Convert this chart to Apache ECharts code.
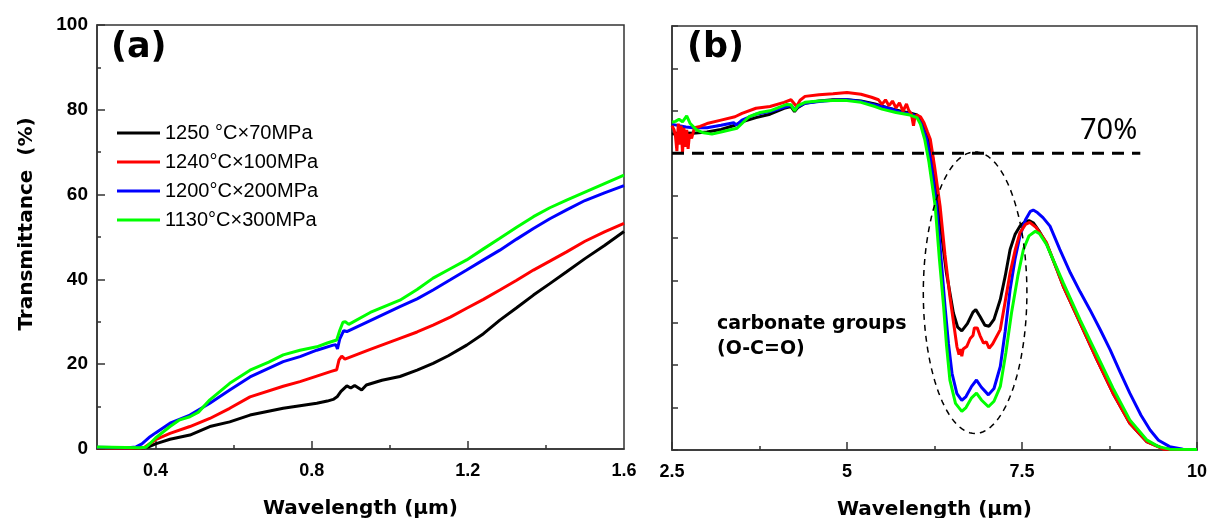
<!DOCTYPE html>
<html>
<head>
<meta charset="utf-8">
<script src="https://cdn.jsdelivr.net/npm/echarts@6/dist/echarts.min.js"></script>
<style>html,body{margin:0;padding:0;background:#fff;}#c{width:1212px;height:518px;}</style>
</head>
<body>
<div id="c"></div>
<script>
// ---------- data ----------
const seriesNames = ['1250 °C×70MPa', '1240°C×100MPa', '1200°C×200MPa', '1130°C×300MPa'];
const seriesColors = ['#000000', '#ff0000', '#0000ff', '#00ff00'];

// panel (a): [wavelength µm, transmittance %]
const aBlack = [[0.25,0.3],[0.3,0.3],[0.35,0.2],[0.37,0.3],[0.385,0.6],[0.40,1.2],[0.41,1.5],[0.437,2.3],[0.488,3.3],[0.539,5.3],[0.59,6.4],[0.642,8.0],[0.727,9.6],[0.77,10.2],[0.813,10.8],[0.84,11.3],[0.855,11.7],[0.865,12.3],[0.875,13.6],[0.89,14.9],[0.9,14.4],[0.91,15.0],[0.928,13.9],[0.94,15.1],[0.98,16.2],[1.026,17.1],[1.07,18.6],[1.111,20.2],[1.15,22.0],[1.197,24.5],[1.24,27.2],[1.282,30.4],[1.325,33.3],[1.368,36.3],[1.41,39.0],[1.453,41.8],[1.5,44.9],[1.55,48.0],[1.6,51.3]];
const aRed = [[0.25,0.3],[0.33,0.2],[0.37,0.3],[0.386,1.3],[0.40,2.2],[0.437,3.7],[0.488,5.3],[0.539,7.2],[0.59,9.6],[0.642,12.3],[0.727,14.8],[0.77,15.9],[0.813,17.2],[0.85,18.3],[0.864,18.7],[0.87,21.0],[0.877,21.9],[0.885,21.2],[0.89,21.4],[0.95,23.5],[1.026,26.1],[1.07,27.6],[1.111,29.2],[1.155,31.1],[1.197,33.2],[1.24,35.3],[1.282,37.5],[1.325,39.8],[1.368,42.2],[1.41,44.3],[1.453,46.5],[1.5,49.0],[1.55,51.2],[1.6,53.2]];
const aBlue = [[0.25,0.4],[0.33,0.3],[0.35,0.5],[0.365,1.2],[0.386,2.9],[0.40,3.8],[0.437,6.1],[0.488,8.0],[0.539,10.8],[0.59,13.9],[0.642,17.0],[0.727,20.6],[0.77,21.8],[0.813,23.3],[0.855,24.5],[0.862,24.6],[0.866,23.6],[0.872,26.0],[0.882,27.9],[0.89,27.7],[0.95,30.3],[1.026,33.6],[1.07,35.4],[1.111,37.5],[1.155,39.9],[1.197,42.2],[1.24,44.6],[1.282,46.9],[1.325,49.5],[1.368,52.0],[1.41,54.3],[1.453,56.4],[1.5,58.6],[1.55,60.4],[1.6,62.1]];
const aGreen = [[0.25,0.5],[0.36,0.3],[0.375,0.4],[0.386,1.3],[0.40,2.6],[0.437,5.3],[0.46,6.8],[0.488,7.6],[0.51,8.7],[0.539,11.6],[0.59,15.5],[0.642,18.6],[0.69,20.5],[0.727,22.2],[0.77,23.3],[0.813,24.1],[0.84,25.0],[0.864,25.7],[0.872,28.0],[0.88,29.9],[0.886,30.0],[0.895,29.4],[0.95,32.2],[1.026,35.1],[1.07,37.6],[1.111,40.3],[1.155,42.5],[1.197,44.6],[1.24,47.2],[1.282,49.7],[1.325,52.3],[1.368,54.8],[1.41,56.9],[1.453,58.7],[1.5,60.6],[1.55,62.6],[1.6,64.6]];

// panel (b)
const bBlack = [[2.5,74.5],[2.6,74.8],[2.8,74.7],[3.0,75.0],[3.2,75.6],[3.4,76.6],[3.5,77.4],[3.7,78.4],[3.9,79.2],[4.1,80.6],[4.2,81.0],[4.25,79.8],[4.3,80.8],[4.4,81.8],[4.6,82.3],[4.8,82.6],[5.0,82.6],[5.2,82.3],[5.4,81.6],[5.6,80.6],[5.8,79.8],[5.9,79.5],[6.0,79.0],[6.06,78.0],[6.1,76.6],[6.16,73.3],[6.22,69.5],[6.28,61.5],[6.35,51],[6.42,41.8],[6.52,32.3],[6.58,29.0],[6.64,28.1],[6.72,29.8],[6.8,32.5],[6.84,33.1],[6.9,31.5],[6.97,29.4],[7.03,29.2],[7.1,30.8],[7.19,35.5],[7.26,41],[7.33,47.3],[7.4,50.8],[7.47,52.8],[7.55,53.9],[7.6,54.1],[7.66,53.6],[7.75,51.5],[7.85,48.7],[8.0,42.5],[8.09,38.6],[8.33,30],[8.57,21.3],[8.8,13.4],[9.04,6.3],[9.28,2.0],[9.52,0.3],[9.8,0.1],[10,0.1]];
const bRed = [[2.5,76.5],[2.53,75.5],[2.55,74],[2.57,70.5],[2.59,77],[2.61,72],[2.63,76.5],[2.65,70],[2.67,76],[2.69,71.5],[2.71,75.5],[2.73,71],[2.75,74.5],[2.78,73.5],[2.82,76],[2.9,76.3],[3.0,77.0],[3.2,77.8],[3.4,78.6],[3.5,79.4],[3.7,80.6],[3.9,81.0],[4.1,82.0],[4.2,82.6],[4.28,81.0],[4.33,82.5],[4.4,83.4],[4.6,83.8],[4.8,84.0],[5.0,84.3],[5.2,83.9],[5.35,83.2],[5.45,82.6],[5.5,81.5],[5.55,82.6],[5.6,81.2],[5.65,82.3],[5.7,80.7],[5.75,81.9],[5.8,79.9],[5.85,81.6],[5.88,80.2],[5.92,79.2],[5.95,76.5],[5.97,78.5],[6.0,79.0],[6.05,78.6],[6.1,77.2],[6.15,75],[6.19,73.3],[6.25,67],[6.33,57.5],[6.4,46],[6.47,36.2],[6.57,24.4],[6.6,22.5],[6.62,23.8],[6.64,22.1],[6.66,23.8],[6.71,24.4],[6.76,26.3],[6.8,27.0],[6.82,28.8],[6.84,28.4],[6.86,28.8],[6.9,27.0],[6.95,25.2],[6.99,25.5],[7.03,24.0],[7.08,25.0],[7.19,28.4],[7.26,35],[7.33,41.8],[7.4,47],[7.47,51.2],[7.55,53.2],[7.61,53.7],[7.7,52.5],[7.85,48.9],[8.09,38.6],[8.33,30],[8.57,21.3],[8.8,13.4],[9.04,6.3],[9.28,2.0],[9.52,0.2],[9.8,0.1],[10,0.1]];
const bBlue = [[2.5,76.8],[2.6,76.5],[2.7,76.2],[2.8,76.0],[3.0,76.0],[3.2,76.6],[3.38,77.2],[3.42,76.6],[3.5,77.8],[3.7,79.2],[3.9,79.8],[4.1,80.8],[4.2,81.3],[4.25,80.3],[4.3,81.0],[4.4,81.8],[4.6,82.2],[4.8,82.5],[5.0,82.6],[5.2,82.2],[5.4,81.4],[5.6,80.6],[5.8,79.5],[5.9,79.4],[6.0,78.6],[6.06,77],[6.1,75.2],[6.14,73.3],[6.2,68],[6.28,57.5],[6.35,44],[6.4,33.9],[6.45,25],[6.5,18.1],[6.57,13.3],[6.64,11.7],[6.7,12.6],[6.78,15.0],[6.85,16.5],[6.92,14.8],[7.02,13.0],[7.1,14.5],[7.19,19.7],[7.26,28],[7.33,37.8],[7.4,45],[7.47,50.4],[7.55,54.3],[7.62,56.3],[7.66,56.6],[7.72,56.0],[7.8,54.8],[7.9,52.8],[8.04,47.3],[8.19,41.8],[8.33,37.3],[8.47,33.1],[8.62,28.3],[8.76,23.6],[8.9,18.4],[9.04,13.4],[9.2,8.2],[9.33,4.7],[9.45,2.3],[9.61,0.8],[9.8,0.2],[10,0.1]];
const bGreen = [[2.5,77.3],[2.55,77.5],[2.6,78.0],[2.65,77.4],[2.71,78.8],[2.76,77.0],[2.85,75.5],[2.95,74.8],[3.07,74.5],[3.2,75.0],[3.35,75.6],[3.43,75.9],[3.5,77.0],[3.6,78.6],[3.76,79.6],[3.9,80.0],[4.14,81.5],[4.2,81.4],[4.25,80.0],[4.3,81.2],[4.4,82.0],[4.6,82.3],[4.8,82.4],[5.0,82.4],[5.2,82.0],[5.4,81.0],[5.5,80.4],[5.7,79.6],[5.8,79.3],[5.9,79.0],[6.0,78.4],[6.05,76.8],[6.08,75],[6.11,73.3],[6.17,68],[6.26,57.5],[6.32,45],[6.38,33.9],[6.42,25],[6.47,16.5],[6.55,11],[6.64,9.1],[6.7,10.0],[6.78,12.3],[6.85,13.4],[6.92,11.8],[7.02,10.2],[7.1,11.5],[7.19,15.0],[7.27,23],[7.35,32.3],[7.44,41],[7.52,47.3],[7.6,50.5],[7.69,51.6],[7.75,51.0],[7.85,48.5],[8.09,39.4],[8.33,30.7],[8.57,22.5],[8.8,14.6],[9.04,7.1],[9.28,2.4],[9.45,0.8],[9.61,0.2],[10,0.1]];

// reference line & annotation ellipse (in data units)
const refLine = [[2.5,70],[9.19,70]];
const ellipseCenter = [6.83, 37.1];
const ellipseRadii = [0.74, 33.2];

// axis ticks
const aXLabels = [0.4, 0.8, 1.2, 1.6];
const aXMajorTicks = [0.4, 0.8, 1.2];
const aXMinorTicks = [0.6, 1.0, 1.4];

// ---------- chart ----------
const ellipsePts = [];
for (let i = 0; i <= 120; i++) {
  const t = i / 120 * 2 * Math.PI;
  ellipsePts.push([ellipseCenter[0] + ellipseRadii[0] * Math.sin(t), ellipseCenter[1] + ellipseRadii[1] * Math.cos(t)]);
}

const axisCol = '#333';
const tickFont = {fontFamily: 'Liberation Sans', fontWeight: 'bold', fontSize: 19, color: '#000'};
const nameFont = {fontFamily: 'DejaVu Sans', fontWeight: 'bold', fontSize: 20, color: '#000'};

function lineSeries(name, data, color, xi, yi, z) {
  return {
    name, type: 'line', data, xAxisIndex: xi, yAxisIndex: yi, showSymbol: false, symbol: 'none',
    lineStyle: {color, width: 3}, itemStyle: {color}, z: z, animation: false, silent: true
  };
}

const chart = echarts.init(document.getElementById('c'), null, {renderer: 'canvas'});
chart.setOption({
  animation: false,
  backgroundColor: '#fff',
  grid: [
    {left: 97, top: 25, width: 527, height: 424, outerBoundsMode: 'none', containLabel: false, show: true, borderColor: axisCol, borderWidth: 1.5, backgroundColor: 'transparent'},
    {left: 672, top: 26, width: 525, height: 424, outerBoundsMode: 'none', containLabel: false, show: true, borderColor: axisCol, borderWidth: 1.5, backgroundColor: 'transparent'}
  ],
  legend: {
    data: seriesNames, left: 112, top: 118, orient: 'vertical', icon: 'rect',
    itemWidth: 43, itemHeight: 3, itemGap: 9,
    textStyle: {fontFamily: 'Liberation Sans', fontSize: 20, color: '#000'}
  },
  xAxis: [
    {gridIndex: 0, type: 'value', min: 0.25, max: 1.6, position: 'bottom',
     name: 'Wavelength (μm)', nameLocation: 'middle', nameGap: 50, nameTextStyle: nameFont,
     axisLine: {show: true, lineStyle: {color: axisCol, width: 1.5}},
     axisTick: {show: true, inside: true, length: 8, customValues: aXMajorTicks, lineStyle: {color: axisCol, width: 1.5}},
     axisLabel: {show: true, customValues: aXLabels, margin: 13, ...tickFont, fontSize: 18},
     splitLine: {show: false}},
    {gridIndex: 0, type: 'value', min: 0.25, max: 1.6, position: 'bottom',
     axisLine: {show: false},
     axisTick: {show: true, inside: true, length: 4, customValues: aXMinorTicks, lineStyle: {color: axisCol, width: 1.5}},
     axisLabel: {show: false}, splitLine: {show: false}},
    {gridIndex: 1, type: 'value', min: 2.5, max: 10, interval: 2.5, position: 'bottom',
     name: 'Wavelength (μm)', nameLocation: 'middle', nameGap: 50, nameTextStyle: nameFont,
     axisLine: {show: true, lineStyle: {color: axisCol, width: 1.5}},
     axisTick: {show: true, inside: true, length: 8, lineStyle: {color: axisCol, width: 1.5}},
     minorTick: {show: true, splitNumber: 2, length: 4, lineStyle: {color: axisCol, width: 1.5}},
     axisLabel: {show: true, margin: 13, ...tickFont, fontSize: 18, formatter: v => String(v)},
     splitLine: {show: false}, minorSplitLine: {show: false}}
  ],
  yAxis: [
    {gridIndex: 0, type: 'value', min: 0, max: 100, interval: 20,
     name: 'Transmittance  (%)', nameLocation: 'middle', nameGap: 60,
     nameTextStyle: {...nameFont, padding: [0, 0, 0, 26]},
     axisLine: {show: true, lineStyle: {color: axisCol, width: 1.5}},
     axisTick: {show: true, inside: true, length: 8, lineStyle: {color: axisCol, width: 1.5}},
     minorTick: {show: true, splitNumber: 2, length: 4, lineStyle: {color: axisCol, width: 1.5}},
     axisLabel: {show: true, margin: 9, ...tickFont},
     splitLine: {show: false}, minorSplitLine: {show: false}},
    {gridIndex: 1, type: 'value', min: 0, max: 100, interval: 10,
     axisLine: {show: true, lineStyle: {color: axisCol, width: 1.5}},
     axisTick: {show: true, inside: true, length: 6, lineStyle: {color: axisCol, width: 1.5}},
     axisLabel: {show: false}, splitLine: {show: false}}
  ],
  series: [
    lineSeries(seriesNames[0], aBlack, seriesColors[0], 0, 0, 2),
    lineSeries(seriesNames[1], aRed, seriesColors[1], 0, 0, 3),
    lineSeries(seriesNames[2], aBlue, seriesColors[2], 0, 0, 4),
    lineSeries(seriesNames[3], aGreen, seriesColors[3], 0, 0, 5),
    lineSeries(seriesNames[0], bBlack, seriesColors[0], 2, 1, 2),
    lineSeries(seriesNames[2], bBlue, seriesColors[2], 2, 1, 3),
    lineSeries(seriesNames[1], bRed, seriesColors[1], 2, 1, 4),
    lineSeries(seriesNames[3], bGreen, seriesColors[3], 2, 1, 5),
    {name: 'ref70', type: 'line', data: refLine, xAxisIndex: 2, yAxisIndex: 1, showSymbol: false, symbol: 'none', silent: true, z: 6,
     lineStyle: {color: '#000', width: 3, type: [12, 8]}},
    {name: 'ellipse', type: 'line', data: ellipsePts, xAxisIndex: 2, yAxisIndex: 1, showSymbol: false, symbol: 'none', silent: true, z: 6,
     lineStyle: {color: '#000', width: 1.5, type: [6, 5]}}
  ],
  graphic: [
    {type: 'text', left: 111, top: 30, style: {text: '(a)', fontFamily: 'DejaVu Sans', fontWeight: 'bold', fontSize: 35, fill: '#000'}},
    {type: 'text', left: 687, top: 30, style: {text: '(b)', fontFamily: 'DejaVu Sans', fontWeight: 'bold', fontSize: 35, fill: '#000'}},
    {type: 'text', left: 1080, top: 116, style: {text: '70%', fontFamily: 'Noto Sans', fontSize: 29, fill: '#000'}},
    {type: 'text', left: 717, top: 312, style: {text: 'carbonate groups\n(O-C=O)', fontFamily: 'DejaVu Sans', fontWeight: 'bold', fontSize: 19, lineHeight: 25, fill: '#000'}}
  ]
});
</script>
</body>
</html>
